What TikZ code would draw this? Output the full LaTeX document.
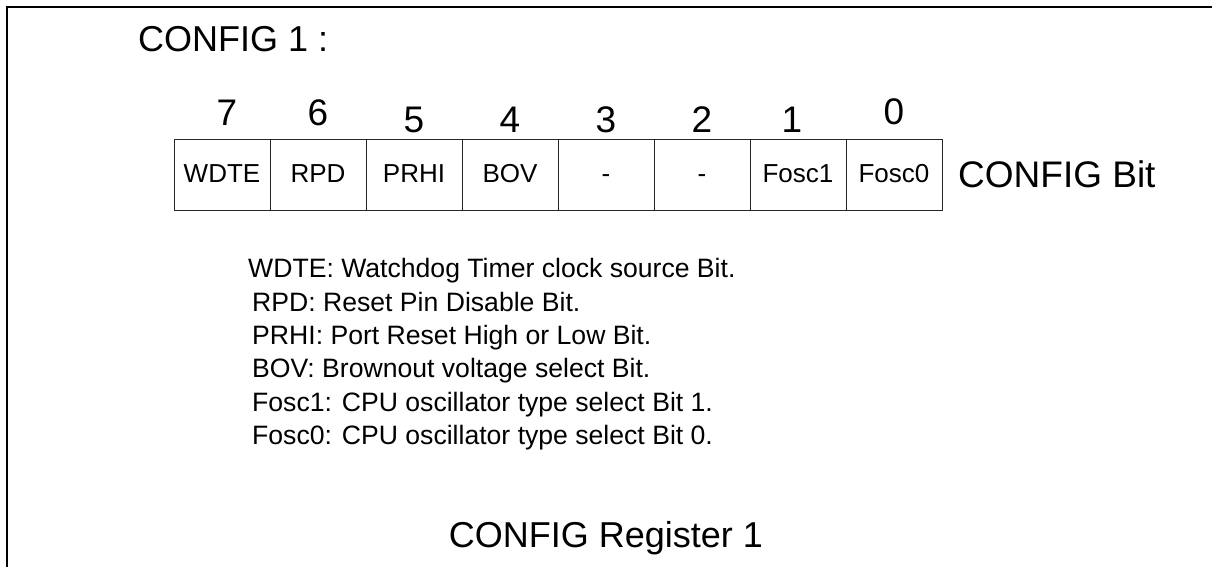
\documentclass[tikz,border=0pt]{standalone}
\usepackage{fontspec}
\setmainfont{Liberation Sans}
\usepackage{tikz}
\usetikzlibrary{positioning, calc}

\tikzset{
  bitcell/.style={draw=black!85, line width=0.9pt, outer sep=0pt, inner sep=0pt,
                  minimum width=96pt, minimum height=71pt, text height=17pt, text depth=0pt,
                  font=\fontsize{26}{30}\selectfont},
  bitnum/.style={anchor=base, inner sep=0pt, font=\fontsize{37}{40}\selectfont},
  bitdesc/.style={anchor=base west, inner sep=0pt, font=\fontsize{26.6}{30}\selectfont},
}

\begin{document}
\begin{tikzpicture}[x=1pt, y=1pt]
  \useasboundingbox (0,0) rectangle (1212,569);
  % frame, top and left side only
  \coordinate (frameTR) at (1212,562);
  \coordinate (frameTL) at (7,562);
  \coordinate (frameBL) at (7,2);
  \draw[line width=2.5pt] (frameTR) -- (frameTL) -- (frameBL);

  \node[anchor=base west, inner sep=0pt, font=\fontsize{36}{40}\selectfont] (title) at (138,517) {CONFIG 1 :};

  % register cells
  \node[bitcell] (c7) at (222,394.5) {WDTE};
  \node[bitcell, right=0pt of c7] (c6) {RPD};
  \node[bitcell, right=0pt of c6] (c5) {PRHI};
  \node[bitcell, right=0pt of c5] (c4) {BOV};
  \node[bitcell, right=0pt of c4] (c3) {-};
  \node[bitcell, right=0pt of c3] (c2) {-};
  \node[bitcell, right=0pt of c2] (c1) {Fosc1};
  \node[bitcell, right=0pt of c1] (c0) {Fosc0};
  \node[right=16pt of c0, inner sep=0pt, font=\fontsize{37}{40}\selectfont] (cfgbit) {CONFIG Bit};

  % bit numbers
  \node[bitnum] (n7) at ($(c7.north)+(5,13)$) {7};
  \node[bitnum] (n6) at ($(c6.north)+(0,13)$) {6};
  \node[bitnum] (n5) at ($(c5.north)+(0,6)$) {5};
  \node[bitnum] (n4) at ($(c4.north)+(0,6)$) {4};
  \node[bitnum] (n3) at ($(c3.north)+(0,6)$) {3};
  \node[bitnum] (n2) at ($(c2.north)+(0,6)$) {2};
  \node[bitnum] (n1) at ($(c1.north)+(-6,6)$) {1};
  \node[bitnum] (n0) at ($(c0.north)+(0,14)$) {0};

  % bit descriptions
  \node[bitdesc] (dWDTE) at (248,291) {WDTE: Watchdog Timer clock source Bit.};
  \node[bitdesc] (dRPD) at (252,257) {RPD: Reset Pin Disable Bit.};
  \node[bitdesc] (dPRHI) at (252,224) {PRHI: Port Reset High or Low Bit.};
  \node[bitdesc] (dBOV) at (252,191) {BOV: Brownout voltage select Bit.};
  \node[bitdesc] (dFosc1) at (252,157) {Fosc1: CPU oscillator type select Bit 1.};
  \node[bitdesc] (dFosc0) at (252,124) {Fosc0: CPU oscillator type select Bit 0.};

  \node[inner sep=0pt, font=\fontsize{36}{40}\selectfont] (caption) at (606,31) {CONFIG Register 1};
\end{tikzpicture}
\end{document}
